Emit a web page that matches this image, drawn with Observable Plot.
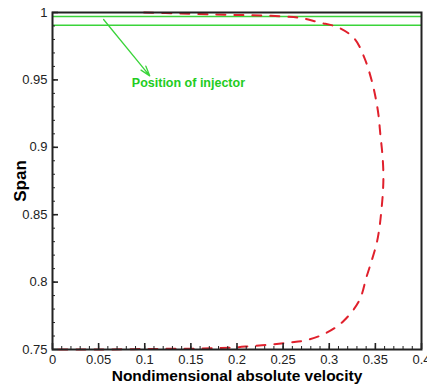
<!DOCTYPE html>
<html><head><meta charset="utf-8">
<script src="https://cdn.jsdelivr.net/npm/d3@7"></script>
<script src="https://cdn.jsdelivr.net/npm/@observablehq/plot@0.6"></script>
<style>
body{margin:0;background:#fff;}
svg{font-family:"Liberation Sans",Arial,sans-serif;}
g[aria-label="x-axis label"] text{font-weight:bold;font-size:15.5px;fill:#000;}
g[aria-label="y-axis label"] text{font-weight:bold;font-size:17px;fill:#000;}
</style></head><body>
<div id="chart"></div>
<script>
// Red dashed velocity profile (velocity, span), traced in drawing order
const velocity = [0.0065,0.052,0.1065,0.161,0.197,0.216,0.237,0.2565,0.274,0.2957,0.315,0.3326,0.3402,0.3457,0.3511,0.3543,0.3565,0.3582,0.3587,0.3576,0.3554,0.3533,0.35,0.3457,0.338,0.3272,0.3098,0.2891,0.2696,0.25,0.226,0.2043,0.177,0.139,0.099];
const span     = [0.75,0.75,0.7504,0.7507,0.7515,0.7526,0.7537,0.7552,0.7567,0.7619,0.7708,0.7864,0.8034,0.8153,0.8279,0.8398,0.8531,0.8672,0.8798,0.8947,0.9095,0.9243,0.9377,0.9503,0.9666,0.9807,0.9889,0.9926,0.9959,0.997,0.9978,0.9981,0.9985,0.9993,1.0];
// Injector position lines
const injectorSpans = [0.997, 0.9905];
// Annotation
const annoText = ["Position of injector"];
const annoX = [0.086];
const annoY = [0.948];
const arrowX1 = [0.0554], arrowY1 = [0.9948], arrowX2 = [0.1054], arrowY2 = [0.953];
// Ticks
const xMajor = [0,0.05,0.1,0.15,0.2,0.25,0.3,0.35,0.4];
const xLabels = ["0","0.05","0.1","0.15","0.2","0.25","0.3","0.35","0.4"];
const xMinor = d3.range(0, 41).map(i => i/100);
const yMajor = [0.75,0.8,0.85,0.9,0.95,1];
const yLabels = ["0.75","0.8","0.85","0.9","0.95","1"];
const yMinor = d3.range(75, 101).map(i => i/100);

const profile = velocity.map((v,i)=>({v, s: span[i]}));
const anno = annoText.map((t,i)=>({t, x: annoX[i], y: annoY[i]}));
const arrows = arrowX1.map((x,i)=>({x1:x, y1:arrowY1[i], x2:arrowX2[i], y2:arrowY2[i]}));

const green = "#3ad43a";
const plot = Plot.plot({
  width: 427, height: 385,
  marginLeft: 52, marginRight: 6, marginTop: 12, marginBottom: 36,
  style: {fontSize: "13px", color: "#222", background: "#fff", overflow: "visible"},
  x: {domain: [0, 0.4]},
  y: {domain: [0.75, 1]},
  marks: [
    Plot.ruleY(injectorSpans, {stroke: green, strokeWidth: 1.4}),
    Plot.line(profile, {x: "v", y: "s", stroke: "#e0202c", strokeWidth: 2, strokeDasharray: "9,9", curve: "catmull-rom"}),
    Plot.arrow(arrows, {x1:"x1", y1:"y1", x2:"x2", y2:"y2", stroke: green, strokeWidth: 1.3, headLength: 12, headAngle: 35}),
    Plot.text(anno, {x:"x", y:"y", text:"t", fill: "#22cc22", fontWeight: "bold", fontSize: 12.5, textAnchor: "start"}),
    Plot.axisX({ticks: xMinor, tickSize: -3, text: null, stroke: "#222"}),
    Plot.axisX({ticks: xMajor, tickSize: -6, text: null, strokeWidth: 1.6, stroke: "#222"}),
    Plot.axisX({ticks: xMajor, tickSize: 0, tickPadding: 5, tickFormat: (d,i) => xLabels[i], label: "Nondimensional absolute velocity", labelAnchor: "center", labelOffset: 31, labelArrow: "none"}),
    Plot.axisY({ticks: yMinor, tickSize: -3, text: null, stroke: "#222"}),
    Plot.axisY({ticks: yMajor, tickSize: -6, text: null, strokeWidth: 1.6, stroke: "#222"}),
    Plot.axisY({ticks: yMajor, tickSize: 0, tickPadding: 5, tickFormat: (d,i) => yLabels[i], label: "Span", labelAnchor: "center", labelOffset: 39, labelArrow: "none"}),
    Plot.frame({stroke: "#222", strokeWidth: 2})
  ]
});
document.getElementById("chart").appendChild(plot);
</script></body></html>
